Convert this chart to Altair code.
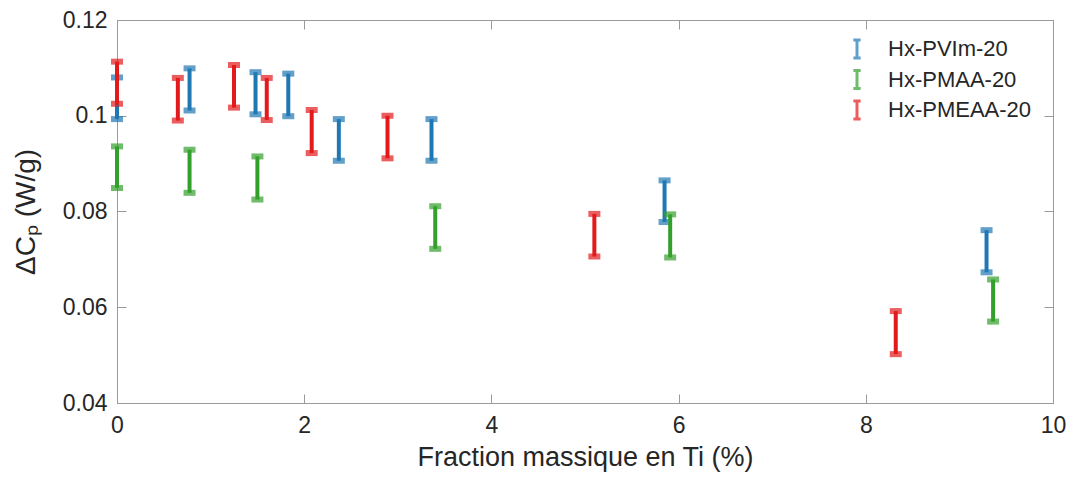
import altair as alt
import pandas as pd

series_names = ["Hx-PVIm-20", "Hx-PMAA-20", "Hx-PMEAA-20"]
series_colors = ["#1F78B4", "#33A02C", "#E31A1C"]

pvim_x = [0.0, 0.775, 1.48, 1.83, 2.37, 3.36, 5.85, 9.29]
pvim_lo = [0.0993, 0.1011, 0.1003, 0.0999, 0.0906, 0.0906, 0.0778, 0.0673]
pvim_hi = [0.1080, 0.1099, 0.1091, 0.1088, 0.0993, 0.0993, 0.0865, 0.0761]

pmaa_x = [0.0, 0.775, 1.50, 3.40, 5.91, 9.36]
pmaa_lo = [0.0849, 0.0839, 0.0825, 0.0722, 0.0704, 0.0570]
pmaa_hi = [0.0936, 0.0929, 0.0915, 0.0811, 0.0794, 0.0658]

pmeaa_x = [0.0, 0.65, 1.25, 1.60, 2.08, 2.89, 5.10, 8.32]
pmeaa_lo = [0.1025, 0.0990, 0.1017, 0.0991, 0.0922, 0.0911, 0.0706, 0.0502]
pmeaa_hi = [0.1113, 0.1079, 0.1106, 0.1079, 0.1012, 0.1000, 0.0795, 0.0592]

x_ticks = [0, 2, 4, 6, 8, 10]
y_ticks = [0.04, 0.06, 0.08, 0.10, 0.12]

rows = []
for name, xs, los, his in [
    (series_names[0], pvim_x, pvim_lo, pvim_hi),
    (series_names[1], pmaa_x, pmaa_lo, pmaa_hi),
    (series_names[2], pmeaa_x, pmeaa_lo, pmeaa_hi),
]:
    for x, lo, hi in zip(xs, los, his):
        rows.append({"series": name, "x": x, "lo": lo, "hi": hi})
df = pd.DataFrame(rows)

FONT = "Liberation Sans"
TXT = "#262626"
FRAME = "#9a9a9a"

xscale = alt.Scale(domain=[0, 10], nice=False, zero=False)
yscale = alt.Scale(domain=[0.04, 0.12], nice=False, zero=False)

x_axis = alt.Axis(
    values=x_ticks, format="d", title="Fraction massique en Ti (%)",
    tickSize=alt.ExprRef(expr="-9"), tickColor=FRAME, domainColor=FRAME,
    labelPadding=20, labelFontSize=23, titleFontSize=27, titlePadding=7,
    grid=False, labelFlush=False,
)
y_axis = alt.Axis(
    values=y_ticks, format=".2~f", title="ΔCₚ (W/g)",
    tickSize=alt.ExprRef(expr="-9"), tickColor=FRAME, domainColor=FRAME,
    labelPadding=19, labelFontSize=23, titleFontSize=28, titlePadding=22,
    grid=False, labelFlush=False,
)

color = alt.Color(
    "series:N",
    scale=alt.Scale(domain=series_names, range=series_colors),
    legend=alt.Legend(
        title=None, orient="none", legendX=729, legendY=18,
        symbolType="M-0.4,-1H0.4M0,-1V1M-0.4,1H0.4",
        symbolSize=330, symbolStrokeWidth=3, symbolFillColor="transparent",
        labelFontSize=22, labelColor=TXT, labelFont=FONT,
        rowPadding=-1.5, labelOffset=20,
    ),
)

layers = []
for name in series_names:
    sub = alt.Chart(df).transform_filter(alt.datum.series == name)
    xenc = alt.X("x:Q", scale=xscale, axis=x_axis)
    rule = sub.mark_rule(strokeWidth=4).encode(
        x=xenc,
        y=alt.Y("lo:Q", scale=yscale, axis=y_axis),
        y2="hi:Q",
        color=color,
    )
    cap_lo = sub.mark_tick(orient="horizontal", size=12, thickness=6).encode(
        x=xenc, y=alt.Y("lo:Q", scale=yscale, axis=y_axis), color=color
    )
    cap_hi = sub.mark_tick(orient="horizontal", size=12, thickness=6).encode(
        x=xenc, y=alt.Y("hi:Q", scale=yscale, axis=y_axis), color=color
    )
    layers += [rule, cap_lo, cap_hi]

inner = alt.layer(*layers)

frame = alt.Chart(df).mark_point(opacity=0).encode(
    x=alt.X("x:Q", scale=xscale, axis=alt.Axis(
        orient="top", values=x_ticks, labels=False, title=None,
        tickSize=alt.ExprRef(expr="-9"), tickColor=FRAME, domainColor=FRAME, grid=False)),
    y=alt.Y("hi:Q", scale=yscale, axis=alt.Axis(
        orient="right", values=y_ticks, labels=False, title=None,
        tickSize=alt.ExprRef(expr="-9"), tickColor=FRAME, domainColor=FRAME, grid=False)),
)

chart = alt.layer(inner, frame).resolve_axis(x="independent", y="independent").properties(
    width=936, height=383,
    autosize=alt.AutoSizeParams(type="none"),
    padding={"left": 109, "top": 12, "right": 14, "bottom": 72},
).configure_view(stroke=None).configure_axis(
    labelFont=FONT, titleFont=FONT, labelColor=TXT, titleColor=TXT,
    titleFontWeight="normal", domainWidth=1, tickWidth=1,
)

chart.save("out.html", embed_options={"renderer": "svg", "actions": False})
